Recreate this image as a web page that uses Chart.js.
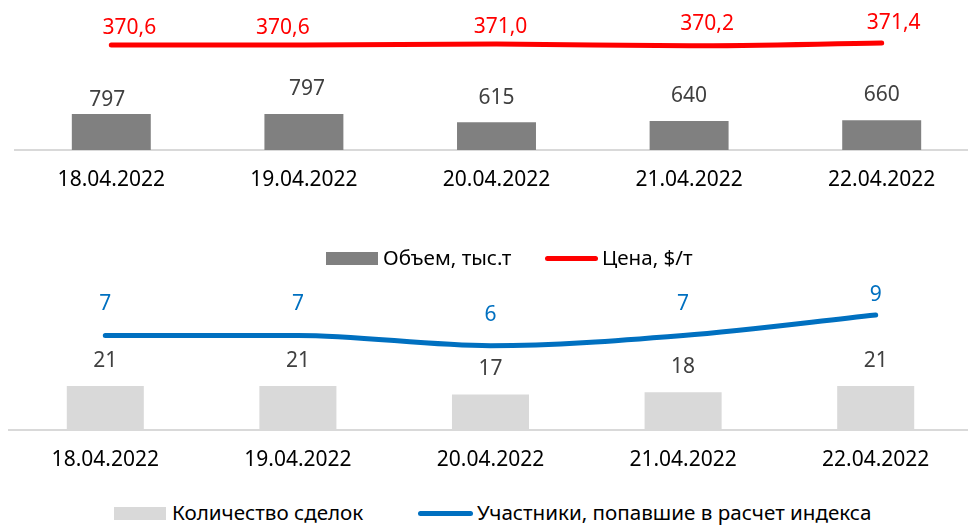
<!DOCTYPE html>
<html>
<head>
<meta charset="utf-8">
<script src="https://cdn.jsdelivr.net/npm/chart.js@4"></script>
<style>
  body { margin: 0; width: 968px; height: 525px; overflow: hidden; background: #fff; position: relative; font-family: "Noto Sans", sans-serif; }
  canvas { position: absolute; left: 0; }
  #topChart { top: 0; }
  #bottomChart { top: 270px; }
  .lg { position: absolute; font-size: 20.6px; color: #000; line-height: 1; white-space: nowrap; }
  .box { position: absolute; height: 13px; width: 52px; }
  .ln { position: absolute; height: 5px; border-radius: 3px; }
</style>
</head>
<body>
<canvas id="topChart" width="990" height="200"></canvas>
<canvas id="bottomChart" width="990" height="210"></canvas>

<div class="box" style="left:326px; top:252px; background:#808080;"></div>
<div class="lg" style="left:383px; top:247px;">Объем, тыс.т</div>
<div class="ln" style="left:545px; top:256px; width:53px; background:#ff0000;"></div>
<div class="lg" style="left:602px; top:247px;">Цена, $/т</div>

<div class="box" style="left:114px; top:507px; background:#d9d9d9;"></div>
<div class="lg" style="left:172px; top:502px;">Количество сделок</div>
<div class="ln" style="left:418px; top:511px; width:55px; background:#0070c0;"></div>
<div class="lg" style="left:477px; top:502px;">Участники, попавшие в расчет индекса</div>

<script>
const dates = ['18.04.2022', '19.04.2022', '20.04.2022', '21.04.2022', '22.04.2022'];
const volume = [797, 797, 615, 640, 660];
const price = [370.6, 370.6, 371.0, 370.2, 371.4];
const deals = [21, 21, 17, 18, 21];
const participants = [7, 7, 6, 7, 9];

const FONT = '"Noto Sans", sans-serif';

// value labels drawn next to every bar / point
const valueLabels = {
  id: 'valueLabels',
  afterDatasetsDraw(chart, args, opts) {
    const ctx = chart.ctx;
    chart.data.datasets.forEach((ds, di) => {
      const cfg = opts.sets[di];
      const meta = chart.getDatasetMeta(di);
      ctx.save();
      ctx.font = '21px ' + FONT;
      ctx.fillStyle = cfg.color;
      ctx.textAlign = 'center';
      ctx.textBaseline = 'middle';
      meta.data.forEach((el, i) => {
        const s = cfg.shift[i];
        ctx.fillText(cfg.format(ds.data[i]), el.x + s[0], el.y + s[1]);
      });
      ctx.restore();
    });
  }
};

function xAxis() {
  return {
    offset: true,
    grid: { display: false, drawTicks: false },
    border: { display: true, color: '#d9d9d9', width: 2 },
    ticks: { color: '#000', font: { size: 21, family: FONT }, padding: 17 },
    afterFit: s => { s.height = 50; }
  };
}

const comma = v => v.toFixed(1).replace('.', ',');

new Chart(document.getElementById('topChart'), {
  type: 'bar',
  data: {
    labels: dates,
    datasets: [
      {
        type: 'line', label: 'Цена, $/т', data: price, yAxisID: 'y2', order: 0,
        borderColor: '#ff0000', borderWidth: 5, borderCapStyle: 'round',
        pointRadius: 0, cubicInterpolationMode: 'monotone', fill: false
      },
      {
        label: 'Объем, тыс.т', data: volume, yAxisID: 'y', order: 1,
        backgroundColor: '#808080', barPercentage: 0.41, categoryPercentage: 1
      }
    ]
  },
  options: {
    responsive: false,
    animation: false,
    layout: { padding: { left: 15, right: 12, top: 10, bottom: 0 } },
    scales: {
      x: xAxis(),
      y: { display: false, min: 0, max: 3100 },
      y2: { display: false, min: 323.9, max: 386.1 }
    },
    plugins: {
      legend: { display: false },
      tooltip: { enabled: false },
      valueLabels: {
        sets: [
          { color: '#ff0000', format: comma, shift: [[18, -17], [-21, -17], [4, -17], [18, -22], [12, -20]] },
          { color: '#404040', format: v => String(v), shift: [[-4, -14], [3, -25], [0, -24], [0, -25], [0, -25]] }
        ]
      }
    }
  },
  plugins: [valueLabels]
});

new Chart(document.getElementById('bottomChart'), {
  type: 'bar',
  data: {
    labels: dates,
    datasets: [
      {
        type: 'line', label: 'Участники, попавшие в расчет индекса', data: participants, yAxisID: 'y2', order: 0,
        borderColor: '#0070c0', borderWidth: 5, borderCapStyle: 'round',
        pointRadius: 0, cubicInterpolationMode: 'monotone', fill: false
      },
      {
        label: 'Количество сделок', data: deals, yAxisID: 'y', order: 1,
        backgroundColor: '#d9d9d9', barPercentage: 0.4, categoryPercentage: 1
      }
    ]
  },
  options: {
    responsive: false,
    animation: false,
    layout: { padding: { left: 9, right: 18, top: 10, bottom: 0 } },
    scales: {
      x: xAxis(),
      y: { display: false, min: 0, max: 71.6 },
      y2: { display: false, min: -2.22, max: 12.41 }
    },
    plugins: {
      legend: { display: false },
      tooltip: { enabled: false },
      valueLabels: {
        sets: [
          { color: '#0070c0', format: v => String(v), shift: [[0, -31], [0, -31], [0, -31], [0, -31], [0, -20]] },
          { color: '#404040', format: v => String(v), shift: [[0, -25], [0, -25], [0, -25], [0, -25], [0, -25]] }
        ]
      }
    }
  },
  plugins: [valueLabels]
});
</script>
</body>
</html>
